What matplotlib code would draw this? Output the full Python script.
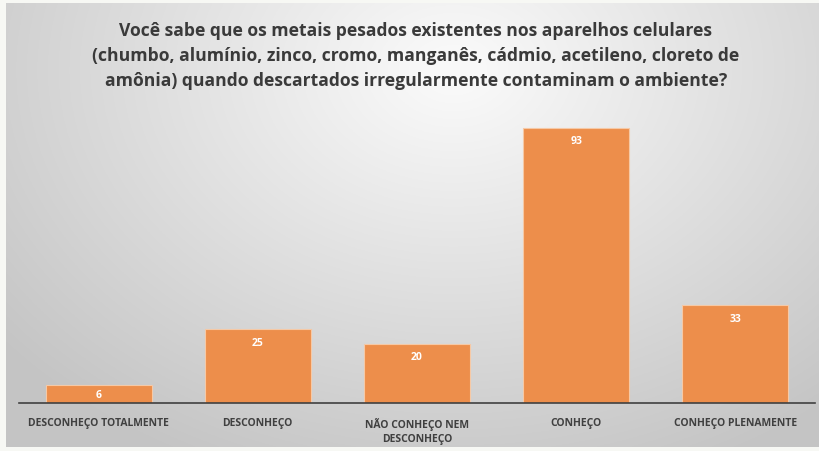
import numpy as np
import matplotlib.pyplot as plt

categories = ["DESCONHEÇO TOTALMENTE", "DESCONHEÇO", "NÃO CONHEÇO NEM\nDESCONHEÇO",
              "CONHEÇO", "CONHEÇO PLENAMENTE"]
values = [6, 25, 20, 93, 33]
title = ("Você sabe que os metais pesados existentes nos aparelhos celulares\n"
         "(chumbo, alumínio, zinco, cromo, manganês, cádmio, acetileno, cloreto de\n"
         "amônia) quando descartados irregularmente contaminam o ambiente?")

plt.rcParams['font.family'] = ['Open Sans', 'DejaVu Sans']

fig = plt.figure(figsize=(8.2, 4.52), dpi=100)
fig.patch.set_facecolor('#f7f8f4')

# gradient background of the chart area
bg = fig.add_axes([6/820, 4/452, 814/820, 444/452])
yy, xx = np.mgrid[0:1:300j, 0:1:600j]
d = np.sqrt(((xx - 0.55) / 0.8) ** 2 + ((yy - 0.15) / 1.1) ** 2)
shade = np.clip(0.985 - 0.24 * d, 0.77, 0.975)
bg.imshow(np.dstack([shade] * 3), aspect='auto', extent=[0, 1, 1, 0], origin='upper')
bg.set_axis_off()

ax = fig.add_axes([19/820, 48/452, 796/820, 296/452])
ax.patch.set_alpha(0)
x = np.arange(len(values))
bars = ax.bar(x, values, width=0.667, color='#ED8E4B', edgecolor='#F6C9A6', linewidth=0.8)
ax.set_xlim(-0.5, len(values) - 0.5)
ax.set_ylim(0, 100)

# value labels inside the top of each bar
for b, v in zip(bars, values):
    ax.text(b.get_x() + b.get_width() / 2, max(v - 4.4, v / 2), str(v),
            ha='center', va='center', color='white', fontsize=7.5, fontweight='bold')

ax.set_xticks(x)
ax.set_xticklabels(categories, fontsize=7.5, fontweight='bold', color='#404040',
                   linespacing=1.45)
ax.tick_params(axis='x', length=0, pad=10)
ax.set_yticks([])
for s in ['top', 'right', 'left']:
    ax.spines[s].set_visible(False)
ax.spines['bottom'].set_color('#404040')
ax.spines['bottom'].set_linewidth(1.2)

fig.text(0.507, 0.951, title, ha='center', va='top', fontsize=12.6, fontweight='bold',
         color='#3a3a3a', linespacing=1.5)

fig.savefig('out.png', dpi=100)
